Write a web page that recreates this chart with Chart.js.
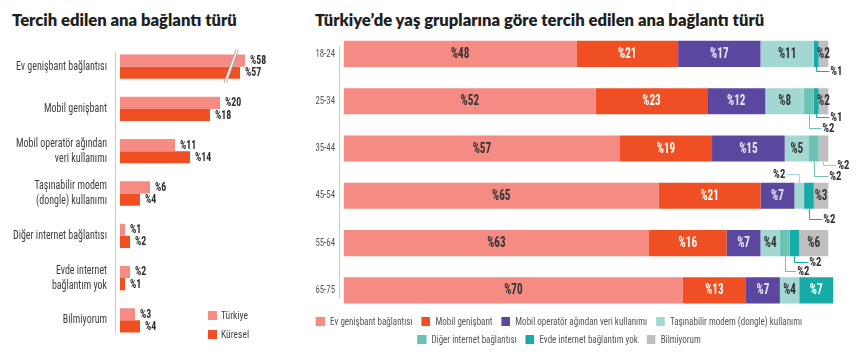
<!DOCTYPE html>
<html lang="tr">
<head>
<meta charset="utf-8">
<script src="https://cdn.jsdelivr.net/npm/chart.js@4.4.1/dist/chart.umd.min.js"></script>
<style>
  html, body { margin:0; padding:0; background:#fff; }
  body { width:860px; height:357px; overflow:hidden; position:relative;
         font-family:'Liberation Sans Narrow','Roboto Condensed','DejaVu Sans Condensed',sans-serif; font-stretch:condensed; }
  .title { position:absolute; top:12px; font-family:Lato,'Open Sans',sans-serif; font-weight:800; font-size:16.6px;
           line-height:17px; color:#1f1f1f; white-space:nowrap; font-stretch:normal; }
  canvas { position:absolute; }
  .lgl { position:absolute; left:208px; font-size:11px; color:#444; line-height:12px; white-space:nowrap; }
  .lgl i { display:inline-block; width:9px; height:9px; margin-right:4px; vertical-align:-1px; }
  .lgl b { display:inline-block; font-weight:normal; transform:scaleX(0.87); transform-origin:left center; }
  #rightLegend { position:absolute; left:259px; width:600px; top:313px; display:flex; flex-wrap:wrap;
                 justify-content:center; column-gap:10px; font-size:10.5px; color:#555; line-height:18px;
                 transform:scaleX(0.86); transform-origin:300px 0; }
  #rightLegend span { white-space:nowrap; }
  #rightLegend i { display:inline-block; width:10.5px; height:9px; margin-right:6px; vertical-align:-1px; }
</style>
</head>
<body>
<div class="title" style="left:12px">Tercih edilen ana bağlantı türü</div>
<div class="title" style="left:315px">Türkiye’de yaş gruplarına göre tercih edilen ana bağlantı türü</div>
<canvas id="left" width="340" height="327" style="left:-40px;top:30px"></canvas>
<canvas id="right" width="560" height="337" style="left:300px;top:20px"></canvas>
<div id="leftLegend"></div>
<div id="rightLegend"></div>
<script>
// ---------- DATA ----------
const leftCategories = [
  ['Ev genişbant bağlantısı'],
  ['Mobil genişbant'],
  ['Mobil operatör ağından', 'veri kullanımı'],
  ['Taşınabilir modem', '(dongle) kullanımı'],
  ['Diğer internet bağlantısı'],
  ['Evde internet', 'bağlantım yok'],
  ['Bilmiyorum']
];
const leftSeriesNames = ['Türkiye', 'Küresel'];
const turkiyeValues = [58, 20, 11, 6, 1, 2, 3];
const kureselValues = [57, 18, 14, 4, 2, 1, 4];

const ageGroups = ['18-24', '25-34', '35-44', '45-54', '55-64', '65-75'];
const connectionTypes = [
  'Ev genişbant bağlantısı',
  'Mobil genişbant',
  'Mobil operatör ağından veri kullanımı',
  'Taşınabilir modem (dongle) kullanımı',
  'Diğer internet bağlantısı',
  'Evde internet bağlantım yok',
  'Bilmiyorum'
];
const evGenisbant      = [48, 52, 57, 65, 63, 70];
const mobilGenisbant   = [21, 23, 19, 21, 16, 13];
const mobilOperator    = [17, 12, 15, 7, 7, 7];
const tasinabilirModem = [11, 8, 5, 2, 4, 4];
const digerBaglanti    = [0, 2, 2, 0, 2, 0];
const evdeYok          = [1, 1, 0, 2, 2, 7];
const bilmiyorum       = [2, 2, 2, 3, 6, 0];
const seriesValues = [evGenisbant, mobilGenisbant, mobilOperator, tasinabilirModem, digerBaglanti, evdeYok, bilmiyorum];

// ---------- STYLE ----------
const COND = "'Liberation Sans Narrow','Roboto Condensed','DejaVu Sans Condensed',sans-serif";
const leftColors = ['#f68b84', '#f04e23'];
const seriesColors = ['#f68b84', '#f04e23', '#5b479f', '#a3d8d2', '#6cc3b3', '#17aba8', '#bfbfbf'];
const labelColors  = ['#333333', '#ffffff', '#ece8f8', '#333333', '#333333', '#ffffff', '#333333'];
const AXIS_BREAK = 30, BREAK_SHIFT = 33;   // broken axis for the first group
const displayValue = v => v > AXIS_BREAK ? v - BREAK_SHIFT : v;
// callouts for small segments: side of the bar, vertical offset, label x relative to row end
const callouts = [
  {age:'18-24', series:5, side:'down', off:4,  lx:2,   align:'left'},
  {age:'25-34', series:5, side:'down', off:3,  lx:2,   align:'left'},
  {age:'25-34', series:4, side:'down', off:14, lx:-6,  align:'left'},
  {age:'35-44', series:6, side:'down', off:3,  lx:9,   align:'left'},
  {age:'35-44', series:4, side:'down', off:14, lx:1,   align:'left'},
  {age:'45-54', series:3, side:'up',   off:9,  lx:-43, align:'right'},
  {age:'45-54', series:5, side:'down', off:10, lx:-5,  align:'left'},
  {age:'55-64', series:5, side:'down', off:6,  lx:-19, align:'left'},
  {age:'55-64', series:4, side:'down', off:15, lx:-31, align:'left'}
];

// draw text horizontally condensed (the original uses a condensed typeface)
function condText(ctx, text, x, y, sx) {
  ctx.save(); ctx.translate(x, y); ctx.scale(sx, 1); ctx.fillText(text, 0, 0); ctx.restore();
}
// make an axis draw its tick labels condensed, anchored at the label edge
function condenseAxis(scale, sx, width) {
  scale.width = width;
  if (scale._condensed) return;
  scale._condensed = true;
  const orig = scale.drawLabels.bind(scale);
  scale.drawLabels = function (area) {
    const ctx = this.ctx, ax = this.right - this.options.ticks.padding;
    ctx.save(); ctx.translate(ax, 0); ctx.scale(sx, 1); ctx.translate(-ax, 0);
    orig(area); ctx.restore();
  };
}

// ---------- LEFT CHART ----------
const leftDecor = {
  id: 'leftDecor',
  afterDatasetsDraw(chart) {
    const ctx = chart.ctx, area = chart.chartArea;
    const m0 = chart.getDatasetMeta(0), m1 = chart.getDatasetMeta(1);
    const first = m0.data[0], last = m1.data[m1.data.length - 1];
    ctx.save();
    ctx.strokeStyle = '#c9c9c9'; ctx.lineWidth = 1;
    ctx.beginPath();
    ctx.moveTo(Math.round(area.left) + 0.5, first.y - first.height / 2 - 2);
    ctx.lineTo(Math.round(area.left) + 0.5, last.y + last.height / 2 + 1);
    ctx.stroke();
    // axis-break marks
    leftCategories.forEach((c, i) => {
      if (Math.max(turkiyeValues[i], kureselValues[i]) <= AXIS_BREAK) return;
      const b0 = m0.data[i], b1 = m1.data[i];
      const top = b0.y - b0.height / 2 - 5, bot = b1.y + b1.height / 2 + 4;
      const xc = Math.min(b0.x, b1.x) - 10, dx = 6, gap = 2.5;
      ctx.fillStyle = '#fff';
      ctx.beginPath();
      ctx.moveTo(xc + dx, top); ctx.lineTo(xc + dx + gap, top);
      ctx.lineTo(xc - dx + gap, bot); ctx.lineTo(xc - dx, bot);
      ctx.closePath(); ctx.fill();
      ctx.strokeStyle = '#a8a8a8';
      ctx.beginPath();
      ctx.moveTo(xc + dx, top); ctx.lineTo(xc - dx, bot);
      ctx.moveTo(xc + dx + gap, top); ctx.lineTo(xc - dx + gap, bot);
      ctx.stroke();
    });
    ctx.font = `bold 12px ${COND}`;
    ctx.fillStyle = '#2f2f2f'; ctx.textBaseline = 'middle'; ctx.textAlign = 'left';
    [[m0, turkiyeValues], [m1, kureselValues]].forEach(([m, vals]) => {
      m.data.forEach((bar, i) => condText(ctx, '%' + vals[i], bar.x + 5, bar.y + 0.5, 0.82));
    });
    ctx.restore();
  }
};

new Chart(document.getElementById('left'), {
  type: 'bar',
  data: {
    labels: leftCategories,
    datasets: [
      {label: leftSeriesNames[0], data: turkiyeValues.map(displayValue), backgroundColor: leftColors[0]},
      {label: leftSeriesNames[1], data: kureselValues.map(displayValue), backgroundColor: leftColors[1]}
    ]
  },
  options: {
    indexAxis: 'y', responsive: false, animation: false,
    layout: {padding: {top: 7, bottom: 3, left: 0, right: 45}},
    datasets: {bar: {categoryPercentage: 0.575, barPercentage: 1}},
    scales: {
      x: {min: -1, max: 27, display: false},
      y: {
        grid: {display: false, drawTicks: false}, border: {display: false},
        ticks: {color: '#3d3d3d', padding: 8, font: {family: COND, size: 12, lineHeight: 1.25}},
        afterFit(s) { condenseAxis(s, 0.83, 155); }
      }
    },
    plugins: {legend: {display: false}, tooltip: {enabled: false}}
  },
  plugins: [leftDecor]
});

// ---------- RIGHT CHART ----------
const rightDecor = {
  id: 'rightDecor',
  afterDatasetsDraw(chart) {
    const ctx = chart.ctx, area = chart.chartArea, xs = chart.scales.x;
    const metas = seriesValues.map((_, d) => chart.getDatasetMeta(d));
    const firstBar = metas[0].data[0], lastBar = metas[0].data[ageGroups.length - 1];
    ctx.save();
    ctx.strokeStyle = '#c9c9c9'; ctx.lineWidth = 1;
    ctx.beginPath();
    ctx.moveTo(Math.round(area.left) + 0.5, firstBar.y - firstBar.height / 2 + 5);
    ctx.lineTo(Math.round(area.left) + 0.5, lastBar.y + lastBar.height / 2 - 5);
    ctx.stroke();

    const isCallout = (i, d) => callouts.some(c => c.age === ageGroups[i] && c.series === d);
    ctx.font = `bold 14px ${COND}`; ctx.textAlign = 'center'; ctx.textBaseline = 'middle';
    seriesValues.forEach((vals, d) => {
      vals.forEach((v, i) => {
        if (!v || isCallout(i, d)) return;
        const bar = metas[d].data[i];
        ctx.fillStyle = labelColors[d];
        condText(ctx, '%' + v, (bar.x + bar.base) / 2, bar.y + 0.5, 0.8);
      });
    });

    ctx.font = `bold 13px ${COND}`;
    callouts.forEach(c => {
      const i = ageGroups.indexOf(c.age);
      const bar = metas[c.series].data[i];
      const cx = Math.round((bar.x + bar.base) / 2) + 0.5;
      const total = seriesValues.reduce((s, vals) => s + vals[i], 0);
      const endX = xs.getPixelForValue(total);
      const edge = c.side === 'down' ? bar.y + bar.height / 2 : bar.y - bar.height / 2;
      const ly = Math.round(c.side === 'down' ? edge + c.off : edge - c.off) + 0.5;
      const lx = endX + c.lx;
      ctx.strokeStyle = seriesColors[c.series];
      ctx.beginPath();
      ctx.moveTo(cx, edge); ctx.lineTo(cx, ly);
      ctx.lineTo(c.align === 'left' ? lx - 1 : lx + 1, ly);
      ctx.stroke();
      ctx.fillStyle = '#2f2f2f'; ctx.textAlign = c.align;
      condText(ctx, '%' + seriesValues[c.series][i], lx, ly, 0.82);
    });
    ctx.restore();
  }
};

new Chart(document.getElementById('right'), {
  type: 'bar',
  data: {
    labels: ageGroups,
    datasets: seriesValues.map((vals, d) => ({
      label: connectionTypes[d], data: vals, backgroundColor: seriesColors[d]
    }))
  },
  options: {
    indexAxis: 'y', responsive: false, animation: false,
    layout: {padding: {top: 6, bottom: 43, left: 0, right: 22}},
    datasets: {bar: {categoryPercentage: 1, barPercentage: 0.553}},
    scales: {
      x: {stacked: true, min: -1, max: 102, display: false},
      y: {
        stacked: true, grid: {display: false, drawTicks: false}, border: {display: false},
        ticks: {color: '#555', padding: 4, font: {family: COND, size: 10.5}},
        afterFit(s) { condenseAxis(s, 0.84, 39); }
      }
    },
    plugins: {legend: {display: false}, tooltip: {enabled: false}}
  },
  plugins: [rightDecor]
});

// ---------- LEGENDS ----------
const ll = document.getElementById('leftLegend');
leftSeriesNames.forEach((name, k) => {
  const d = document.createElement('div');
  d.className = 'lgl';
  d.style.top = (310 + k * 19) + 'px';
  d.innerHTML = `<i style="background:${leftColors[k]}"></i>`;
  const t = document.createElement('b'); t.textContent = name; d.appendChild(t);
  ll.appendChild(d);
});
const rl = document.getElementById('rightLegend');
connectionTypes.forEach((name, d) => {
  const s = document.createElement('span');
  s.innerHTML = `<i style="background:${seriesColors[d]}"></i>`;
  s.appendChild(document.createTextNode(name));
  rl.appendChild(s);
});
</script>
</body>
</html>
